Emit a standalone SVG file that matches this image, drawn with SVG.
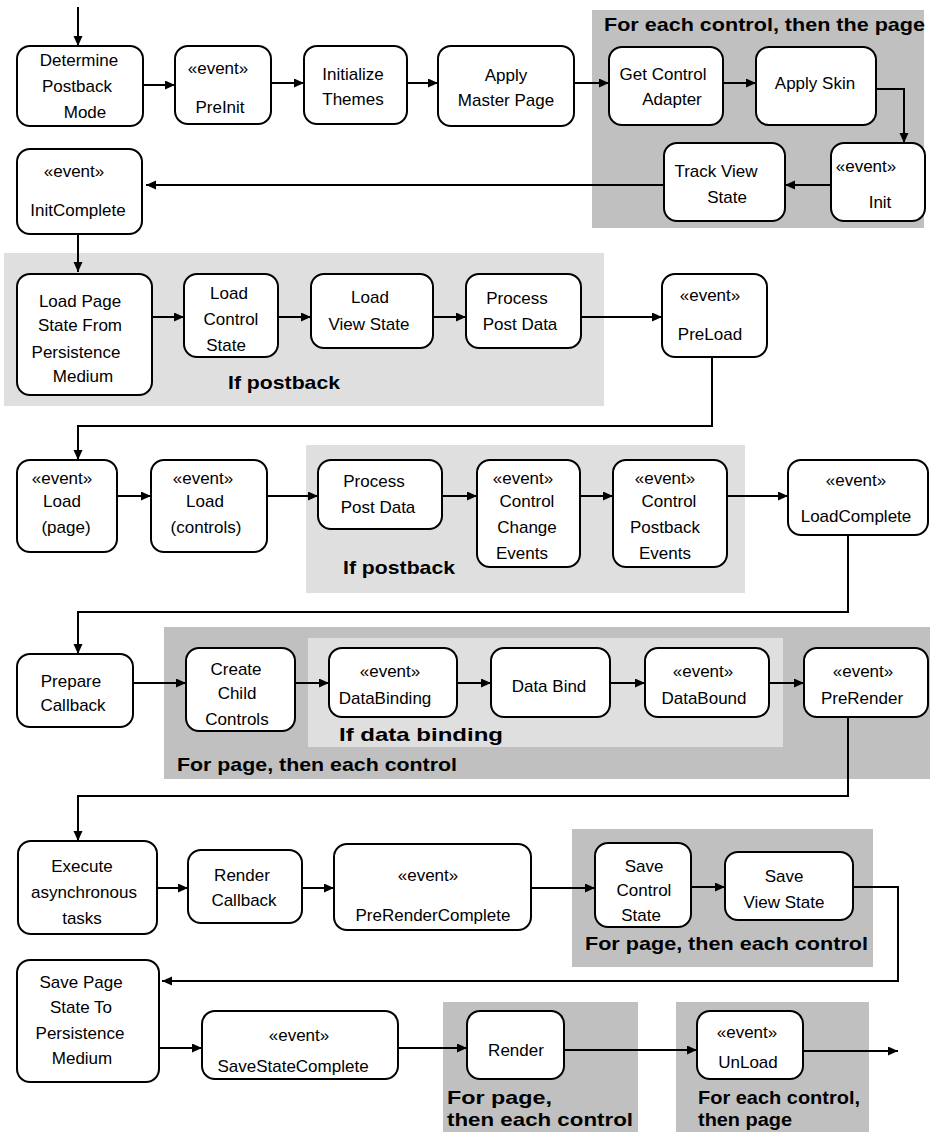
<svg xmlns="http://www.w3.org/2000/svg" width="931" height="1132" viewBox="0 0 931 1132">
<style>
.bg{fill:#fff}
.dk{fill:#c0c0c0}
.lt{fill:#dfdfdf}
.box{fill:#fff;stroke:#000;stroke-width:2}
.t{font-family:"Liberation Sans",Arial,sans-serif;font-size:17px;fill:#000;text-anchor:middle}
.b{font-family:"Liberation Sans",Arial,sans-serif;font-size:19px;font-weight:bold;fill:#000}
.c{fill:none;stroke:#000;stroke-width:2;marker-end:url(#ah)}
</style>
<defs>
<marker id="ah" markerUnits="userSpaceOnUse" markerWidth="11" markerHeight="10" refX="10" refY="4.5" orient="auto">
<path d="M0,0 L10,4.5 L0,9 z" fill="#000"/>
</marker>
</defs>
<rect class="bg" x="0" y="0" width="931" height="1132"/>
<g id="regions">
<rect class="dk" x="592" y="10" width="332" height="218"/>
<rect class="lt" x="4" y="253" width="600" height="153"/>
<rect class="lt" x="306" y="445" width="439" height="148"/>
<rect class="dk" x="164" y="627" width="766" height="152"/>
<rect class="lt" x="308" y="638" width="475" height="109"/>
<rect class="dk" x="572" y="829" width="301" height="138"/>
<rect class="dk" x="443" y="1002" width="195" height="130"/>
<rect class="dk" x="676" y="1002" width="193" height="130"/>
<text class="b" x="604" y="31" textLength="321" lengthAdjust="spacingAndGlyphs">For each control, then the page</text>
<text class="b" x="228" y="389" textLength="112" lengthAdjust="spacingAndGlyphs">If postback</text>
<text class="b" x="343" y="574" textLength="112" lengthAdjust="spacingAndGlyphs">If postback</text>
<text class="b" x="339" y="741" textLength="164" lengthAdjust="spacingAndGlyphs">If data binding</text>
<text class="b" x="177" y="771" textLength="280" lengthAdjust="spacingAndGlyphs">For page, then each control</text>
<text class="b" x="585" y="950" textLength="283" lengthAdjust="spacingAndGlyphs">For page, then each control</text>
<text class="b" x="447" y="1104" textLength="105" lengthAdjust="spacingAndGlyphs">For page,</text>
<text class="b" x="447" y="1126" textLength="186" lengthAdjust="spacingAndGlyphs">then each control</text>
<text class="b" x="698" y="1104" textLength="162" lengthAdjust="spacingAndGlyphs">For each control,</text>
<text class="b" x="698" y="1126" textLength="94" lengthAdjust="spacingAndGlyphs">then page</text>
</g>
<g id="connectors">
<path class="c" d="M78,7 V46"/>
<path class="c" d="M143,85 H175"/>
<path class="c" d="M271,83 H304"/>
<path class="c" d="M407,83 H438"/>
<path class="c" d="M574,83 H609"/>
<path class="c" d="M723,83 H756"/>
<path class="c" d="M876,89 H904 V143"/>
<path class="c" d="M831,185 H785"/>
<path class="c" d="M664,185 H146"/>
<path class="c" d="M78,234 V272"/>
<path class="c" d="M152,317 H184"/>
<path class="c" d="M278,317 H311"/>
<path class="c" d="M433,317 H466"/>
<path class="c" d="M581,317 H662"/>
<path class="c" d="M712,357 V426 H78 V460"/>
<path class="c" d="M117,496 H151"/>
<path class="c" d="M267,496 H318"/>
<path class="c" d="M442,496 H477"/>
<path class="c" d="M580,496 H613"/>
<path class="c" d="M727,496 H788"/>
<path class="c" d="M848,535 V612 H78 V654"/>
<path class="c" d="M133,683 H186"/>
<path class="c" d="M295,683 H329"/>
<path class="c" d="M457,683 H491"/>
<path class="c" d="M610,683 H645"/>
<path class="c" d="M769,683 H804"/>
<path class="c" d="M848,717 V796 H78 V841"/>
<path class="c" d="M157,888 H188"/>
<path class="c" d="M302,888 H334"/>
<path class="c" d="M531,888 H595"/>
<path class="c" d="M691,887 H725"/>
<path class="c" d="M853,887 H898 V981 H162"/>
<path class="c" d="M159,1048 H202"/>
<path class="c" d="M398,1048 H467"/>
<path class="c" d="M564,1050 H697"/>
<path class="c" d="M803,1051 H898"/>
</g>
<g id="n1"><rect class="box" x="17" y="46" width="126" height="80" rx="13"/><text class="t" x="79" y="66">Determine</text><text class="t" x="77" y="92">Postback</text><text class="t" x="85" y="118">Mode</text></g>
<g id="n2"><rect class="box" x="175" y="46" width="96" height="78" rx="13"/><text class="t" x="218" y="74">«event»</text><text class="t" x="220" y="113">PreInit</text></g>
<g id="n3"><rect class="box" x="304" y="46" width="103" height="78" rx="13"/><text class="t" x="353" y="80">Initialize</text><text class="t" x="353" y="105">Themes</text></g>
<g id="n4"><rect class="box" x="438" y="46" width="136" height="80" rx="13"/><text class="t" x="506" y="81">Apply</text><text class="t" x="506" y="106">Master Page</text></g>
<g id="n5"><rect class="box" x="609" y="47" width="114" height="78" rx="13"/><text class="t" x="663" y="80">Get Control</text><text class="t" x="672" y="105">Adapter</text></g>
<g id="n6"><rect class="box" x="756" y="47" width="120" height="78" rx="13"/><text class="t" x="815" y="89">Apply Skin</text></g>
<g id="n7"><rect class="box" x="831" y="143" width="94" height="78" rx="13"/><text class="t" x="866" y="172">«event»</text><text class="t" x="880" y="208">Init</text></g>
<g id="n8"><rect class="box" x="664" y="143" width="121" height="78" rx="13"/><text class="t" x="716" y="177">Track View</text><text class="t" x="727" y="203">State</text></g>
<g id="n9"><rect class="box" x="17" y="149" width="125" height="85" rx="13"/><text class="t" x="74" y="177">«event»</text><text class="t" x="78" y="216">InitComplete</text></g>
<g id="n10"><rect class="box" x="17" y="274" width="135" height="121" rx="13"/><text class="t" x="80" y="307">Load Page</text><text class="t" x="80" y="331">State From</text><text class="t" x="76" y="358">Persistence</text><text class="t" x="83" y="382">Medium</text></g>
<g id="n11"><rect class="box" x="184" y="274" width="94" height="83" rx="13"/><text class="t" x="229" y="299">Load</text><text class="t" x="231" y="325">Control</text><text class="t" x="226" y="351">State</text></g>
<g id="n12"><rect class="box" x="311" y="274" width="122" height="74" rx="13"/><text class="t" x="370" y="303">Load</text><text class="t" x="369" y="330">View State</text></g>
<g id="n13"><rect class="box" x="466" y="274" width="115" height="74" rx="13"/><text class="t" x="517" y="304">Process</text><text class="t" x="520" y="330">Post Data</text></g>
<g id="n14"><rect class="box" x="662" y="274" width="105" height="83" rx="13"/><text class="t" x="710" y="301">«event»</text><text class="t" x="710" y="340">PreLoad</text></g>
<g id="n15"><rect class="box" x="17" y="460" width="100" height="92" rx="13"/><text class="t" x="62" y="484">«event»</text><text class="t" x="62" y="507">Load</text><text class="t" x="66" y="533">(page)</text></g>
<g id="n16"><rect class="box" x="151" y="460" width="116" height="92" rx="13"/><text class="t" x="203" y="484">«event»</text><text class="t" x="205" y="507">Load</text><text class="t" x="206" y="533">(controls)</text></g>
<g id="n17"><rect class="box" x="318" y="460" width="124" height="69" rx="13"/><text class="t" x="374" y="487">Process</text><text class="t" x="378" y="513">Post Data</text></g>
<g id="n18"><rect class="box" x="477" y="460" width="103" height="107" rx="13"/><text class="t" x="523" y="484">«event»</text><text class="t" x="527" y="507">Control</text><text class="t" x="527" y="533">Change</text><text class="t" x="522" y="559">Events</text></g>
<g id="n19"><rect class="box" x="613" y="460" width="114" height="107" rx="13"/><text class="t" x="665" y="484">«event»</text><text class="t" x="669" y="507">Control</text><text class="t" x="665" y="533">Postback</text><text class="t" x="665" y="559">Events</text></g>
<g id="n20"><rect class="box" x="788" y="460" width="140" height="75" rx="13"/><text class="t" x="856" y="486">«event»</text><text class="t" x="856" y="522">LoadComplete</text></g>
<g id="n21"><rect class="box" x="17" y="654" width="116" height="73" rx="13"/><text class="t" x="71" y="687">Prepare</text><text class="t" x="73" y="711">Callback</text></g>
<g id="n22"><rect class="box" x="186" y="648" width="109" height="83" rx="13"/><text class="t" x="236" y="675">Create</text><text class="t" x="237" y="699">Child</text><text class="t" x="237" y="725">Controls</text></g>
<g id="n23"><rect class="box" x="329" y="648" width="128" height="69" rx="13"/><text class="t" x="390" y="677">«event»</text><text class="t" x="385" y="704">DataBinding</text></g>
<g id="n24"><rect class="box" x="491" y="648" width="119" height="69" rx="13"/><text class="t" x="549" y="692">Data Bind</text></g>
<g id="n25"><rect class="box" x="645" y="648" width="124" height="69" rx="13"/><text class="t" x="703" y="677">«event»</text><text class="t" x="704" y="704">DataBound</text></g>
<g id="n26"><rect class="box" x="804" y="648" width="124" height="69" rx="13"/><text class="t" x="863" y="677">«event»</text><text class="t" x="862" y="704">PreRender</text></g>
<g id="n27"><rect class="box" x="18" y="841" width="139" height="93" rx="13"/><text class="t" x="82" y="872">Execute</text><text class="t" x="84" y="898">asynchronous</text><text class="t" x="82" y="924">tasks</text></g>
<g id="n28"><rect class="box" x="188" y="850" width="114" height="73" rx="13"/><text class="t" x="242" y="881">Render</text><text class="t" x="244" y="906">Callback</text></g>
<g id="n29"><rect class="box" x="334" y="844" width="197" height="86" rx="13"/><text class="t" x="428" y="881">«event»</text><text class="t" x="433" y="921">PreRenderComplete</text></g>
<g id="n30"><rect class="box" x="595" y="843" width="96" height="84" rx="13"/><text class="t" x="644" y="872">Save</text><text class="t" x="644" y="896">Control</text><text class="t" x="641" y="921">State</text></g>
<g id="n31"><rect class="box" x="725" y="852" width="128" height="68" rx="13"/><text class="t" x="784" y="882">Save</text><text class="t" x="784" y="908">View State</text></g>
<g id="n32"><rect class="box" x="17" y="960" width="142" height="122" rx="13"/><text class="t" x="81" y="988">Save Page</text><text class="t" x="81" y="1013">State To</text><text class="t" x="80" y="1039">Persistence</text><text class="t" x="82" y="1064">Medium</text></g>
<g id="n33"><rect class="box" x="202" y="1011" width="196" height="68" rx="13"/><text class="t" x="299" y="1041">«event»</text><text class="t" x="293" y="1072">SaveStateComplete</text></g>
<g id="n34"><rect class="box" x="467" y="1011" width="97" height="68" rx="13"/><text class="t" x="516" y="1056">Render</text></g>
<g id="n35"><rect class="box" x="697" y="1011" width="106" height="68" rx="13"/><text class="t" x="747" y="1038">«event»</text><text class="t" x="748" y="1068">UnLoad</text></g>
</svg>
